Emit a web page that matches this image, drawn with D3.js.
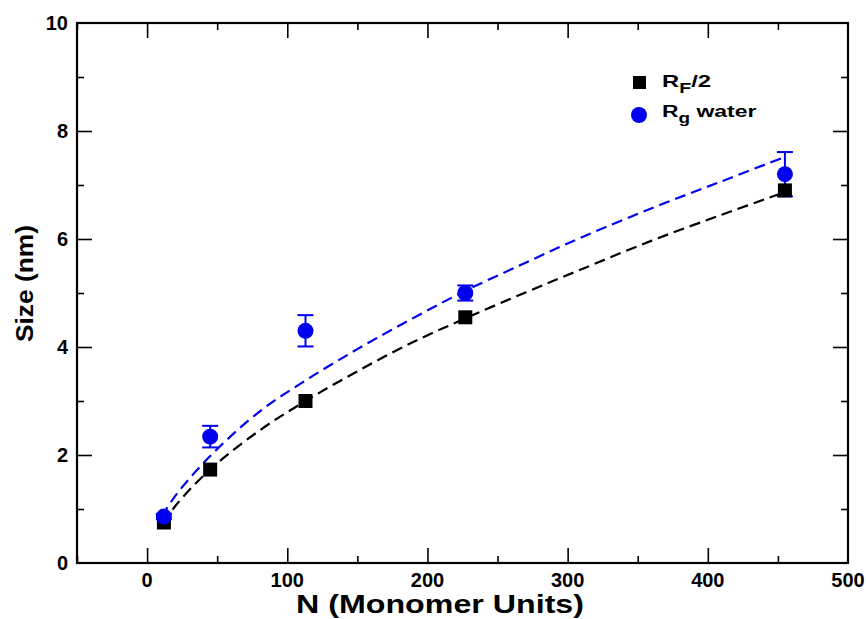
<!DOCTYPE html>
<html>
<head>
<meta charset="utf-8">
<script src="https://cdn.jsdelivr.net/npm/d3@7"></script>
<style>
body { margin: 0; background: #fff; }
text { font-family: "Liberation Sans", Arial, sans-serif; font-weight: bold; }
</style>
</head>
<body>
<div id="chart"></div>
<script>
// Data ==================================================================
var monomers = [12, 45, 113, 227, 455];
var rfHalf = [0.75, 1.73, 3.0, 4.55, 6.9];
var rgWater = [0.86, 2.34, 4.3, 5.0, 7.2];
var rgErr = [0.05, 0.2, 0.29, 0.14, 0.41];

// dashed fit curves
var fitBlackN = [12, 20, 45, 80, 113, 150, 188, 227, 270, 309, 360, 410, 455];
var fitBlackY = [0.72, 1.05, 1.73, 2.45, 3.0, 3.55, 4.07, 4.53, 5.01, 5.43, 5.97, 6.45, 6.87];
var fitBlueN = [10.5, 20, 45, 80, 113, 150, 188, 227, 270, 309, 360, 410, 455];
var fitBlueY = [0.86, 1.24, 1.98, 2.8, 3.38, 3.96, 4.51, 5.04, 5.56, 6.02, 6.57, 7.07, 7.52];

var xTicks = [0, 100, 200, 300, 400, 500];
var yTicks = [0, 2, 4, 6, 8, 10];

// Setup =================================================================
var width = 866, height = 619;
var mLeft = 77, mRight = 848, mTop = 23, mBottom = 563;

var svg = d3.select("#chart").append("svg")
	.attr("width", width)
	.attr("height", height);

var x = d3.scaleLinear().domain([-50, 500]).range([mLeft, mRight]);
var y = d3.scaleLinear().domain([0, 10]).range([mBottom, mTop]);

// Axes, ticks on all four sides pointing inward
function tickAxis(axis, ticks, size) {
	return axis.tickValues(ticks).tickSize(size).tickFormat("");
}
var xMinor = [-50, 50, 150, 250, 350, 450];
var yMinor = [1, 3, 5, 7, 9];
var xMajor = xTicks.slice(0, 5);
var yMajor = yTicks.slice(1, 5);

[[mBottom, d3.axisTop], [mTop, d3.axisBottom]].forEach(function (a) {
	svg.append("g").attr("transform", "translate(0," + a[0] + ")").call(tickAxis(a[1](x), xMajor, 15));
	svg.append("g").attr("transform", "translate(0," + a[0] + ")").call(tickAxis(a[1](x), xMinor, 7));
});
[[mLeft, d3.axisRight], [mRight, d3.axisLeft]].forEach(function (a) {
	svg.append("g").attr("transform", "translate(" + a[0] + ",0)").call(tickAxis(a[1](y), yMajor, 15));
	svg.append("g").attr("transform", "translate(" + a[0] + ",0)").call(tickAxis(a[1](y), yMinor, 7));
});

svg.selectAll(".domain").remove();
svg.selectAll(".tick line").attr("stroke", "#000").attr("stroke-width", 1.6);

svg.append("rect")
	.attr("x", mLeft).attr("y", mTop)
	.attr("width", mRight - mLeft).attr("height", mBottom - mTop)
	.attr("fill", "none").attr("stroke", "#000").attr("stroke-width", 2.2);

// tick labels
svg.selectAll(".xlab").data(xTicks).enter().append("text")
	.attr("x", function (d) { return x(d); })
	.attr("y", mBottom + 24)
	.attr("text-anchor", "middle")
	.attr("font-size", 20)
	.text(function (d) { return d; });

svg.selectAll(".ylab").data(yTicks).enter().append("text")
	.attr("x", mLeft - 9)
	.attr("y", function (d) { return y(d) + 7; })
	.attr("text-anchor", "end")
	.attr("font-size", 20)
	.text(function (d) { return d; });

svg.append("text")
	.attr("x", 296).attr("y", 613)
	.attr("font-size", 25)
	.attr("textLength", 288)
	.attr("lengthAdjust", "spacingAndGlyphs")
	.text("N (Monomer Units)");

svg.append("text")
	.attr("transform", "translate(33,342) rotate(-90)")
	.attr("font-size", 23)
	.attr("textLength", 117)
	.attr("lengthAdjust", "spacingAndGlyphs")
	.text("Size (nm)");

// Fit curves
var line = d3.line()
	.x(function (d) { return x(d[0]); })
	.y(function (d) { return y(d[1]); })
	.curve(d3.curveCatmullRom);

svg.append("path")
	.datum(d3.zip(fitBlackN, fitBlackY))
	.attr("d", line)
	.attr("fill", "none").attr("stroke", "#000")
	.attr("stroke-width", 2.2).attr("stroke-dasharray", "11,6");

svg.append("path")
	.datum(d3.zip(fitBlueN, fitBlueY))
	.attr("d", line)
	.attr("fill", "none").attr("stroke", "#0000ee")
	.attr("stroke-width", 2.2).attr("stroke-dasharray", "11,6");

// Error bars
var errs = svg.append("g").selectAll("g").data(d3.range(monomers.length)).enter().append("g")
	.attr("stroke", "#0000ee").attr("stroke-width", 2);
errs.append("line")
	.attr("x1", function (i) { return x(monomers[i]); })
	.attr("x2", function (i) { return x(monomers[i]); })
	.attr("y1", function (i) { return y(rgWater[i] - rgErr[i]); })
	.attr("y2", function (i) { return y(rgWater[i] + rgErr[i]); });
[-1, 1].forEach(function (s) {
	errs.append("line")
		.attr("x1", function (i) { return x(monomers[i]) - 8; })
		.attr("x2", function (i) { return x(monomers[i]) + 8; })
		.attr("y1", function (i) { return y(rgWater[i] + s * rgErr[i]); })
		.attr("y2", function (i) { return y(rgWater[i] + s * rgErr[i]); });
});

// Points
svg.selectAll(".sq").data(d3.zip(monomers, rfHalf)).enter().append("rect")
	.attr("x", function (d) { return x(d[0]) - 7; })
	.attr("y", function (d) { return y(d[1]) - 7; })
	.attr("width", 14).attr("height", 14)
	.attr("fill", "#000");

svg.selectAll(".dot").data(d3.zip(monomers, rgWater)).enter().append("circle")
	.attr("cx", function (d) { return x(d[0]); })
	.attr("cy", function (d) { return y(d[1]); })
	.attr("r", 8)
	.attr("fill", "#0000ee");

// Legend
svg.append("rect")
	.attr("x", 633).attr("y", 76).attr("width", 13).attr("height", 13)
	.attr("fill", "#000");
svg.append("circle")
	.attr("cx", 639).attr("cy", 115).attr("r", 8)
	.attr("fill", "#0000ee");

var t1 = svg.append("text").attr("font-size", 17)
	.attr("transform", "translate(662,87) scale(1.4,1)");
t1.append("tspan").text("R");
t1.append("tspan").attr("font-size", 14).attr("dy", 6).text("F");
t1.append("tspan").attr("dy", -6).text("/2");

var t2 = svg.append("text").attr("font-size", 17)
	.attr("transform", "translate(662,117) scale(1.35,1)");
t2.append("tspan").text("R");
t2.append("tspan").attr("font-size", 14).attr("dy", 6).text("g");
t2.append("tspan").attr("dy", -6).text(" water");
</script>
</body>
</html>
